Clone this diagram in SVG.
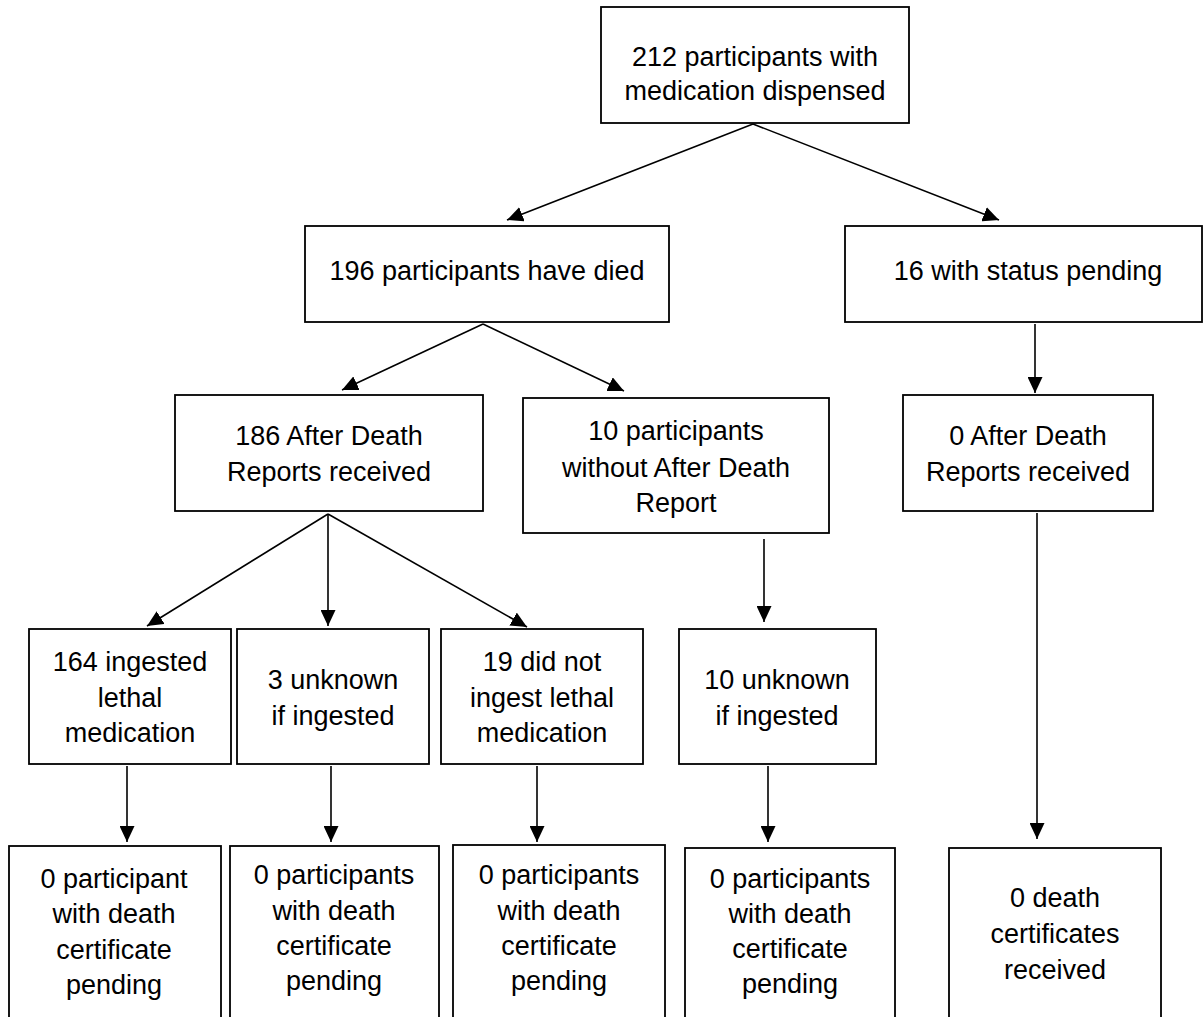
<svg xmlns="http://www.w3.org/2000/svg" width="1203" height="1017" viewBox="0 0 1203 1017">
<style>
  .box { fill: #ffffff; stroke: #000000; stroke-width: 1.8; }
  .lbl { font-family: "Liberation Sans", Arial, sans-serif; font-size: 27px; fill: #000000; text-anchor: middle; }
  .conn { stroke: #000000; stroke-width: 1.6; fill: none; marker-end: url(#arrow); }
</style>
<defs>
  <marker id="arrow" markerUnits="userSpaceOnUse" viewBox="0 0 16 15" refX="16" refY="7.5" markerWidth="16" markerHeight="15" orient="auto">
    <path d="M0,0 L16,7.5 L0,15 z" fill="#000000"/>
  </marker>
</defs>
<rect width="1203" height="1017" fill="#ffffff"/>

<g id="connectors">
  <line class="conn" x1="753" y1="124" x2="507" y2="220"/>
  <line class="conn" x1="753" y1="124" x2="999" y2="220"/>
  <line class="conn" x1="483" y1="324" x2="342" y2="390"/>
  <line class="conn" x1="483" y1="324" x2="624" y2="391"/>
  <line class="conn" x1="1035" y1="324" x2="1035" y2="393"/>
  <line class="conn" x1="328" y1="514" x2="147" y2="626"/>
  <line class="conn" x1="328" y1="514" x2="328" y2="626"/>
  <line class="conn" x1="328" y1="514" x2="527" y2="627"/>
  <line class="conn" x1="764" y1="539" x2="764" y2="622"/>
  <line class="conn" x1="1037" y1="513" x2="1037" y2="839"/>
  <line class="conn" x1="127" y1="766" x2="127" y2="842"/>
  <line class="conn" x1="331" y1="766" x2="331" y2="842"/>
  <line class="conn" x1="537" y1="766" x2="537" y2="842"/>
  <line class="conn" x1="768" y1="766" x2="768" y2="842"/>
</g>

<g id="n212">
  <rect class="box" x="601" y="7" width="308" height="116"/>
  <text class="lbl" x="755" y="66">212 participants with</text>
  <text class="lbl" x="755" y="100">medication dispensed</text>
</g>
<g id="n196">
  <rect class="box" x="305" y="226" width="364" height="96"/>
  <text class="lbl" x="487" y="280">196 participants have died</text>
</g>
<g id="n16">
  <rect class="box" x="845" y="226" width="357" height="96"/>
  <text class="lbl" x="1028" y="280">16 with status pending</text>
</g>
<g id="n186">
  <rect class="box" x="175" y="395" width="308" height="116"/>
  <text class="lbl" x="329" y="445">186 After Death</text>
  <text class="lbl" x="329" y="481">Reports received</text>
</g>
<g id="n10p">
  <rect class="box" x="523" y="398" width="306" height="135"/>
  <text class="lbl" x="676" y="440">10 participants</text>
  <text class="lbl" x="676" y="477">without After Death</text>
  <text class="lbl" x="676" y="512">Report</text>
</g>
<g id="n0adr">
  <rect class="box" x="903" y="395" width="250" height="116"/>
  <text class="lbl" x="1028" y="445">0 After Death</text>
  <text class="lbl" x="1028" y="481">Reports received</text>
</g>
<g id="n164">
  <rect class="box" x="29" y="629" width="202" height="135"/>
  <text class="lbl" x="130" y="671">164 ingested</text>
  <text class="lbl" x="130" y="707">lethal</text>
  <text class="lbl" x="130" y="742">medication</text>
</g>
<g id="n3">
  <rect class="box" x="237" y="629" width="192" height="135"/>
  <text class="lbl" x="333" y="689">3 unknown</text>
  <text class="lbl" x="333" y="725">if ingested</text>
</g>
<g id="n19">
  <rect class="box" x="441" y="629" width="202" height="135"/>
  <text class="lbl" x="542" y="671">19 did not</text>
  <text class="lbl" x="542" y="707">ingest lethal</text>
  <text class="lbl" x="542" y="742">medication</text>
</g>
<g id="n10u">
  <rect class="box" x="679" y="629" width="197" height="135"/>
  <text class="lbl" x="777" y="689">10 unknown</text>
  <text class="lbl" x="777" y="725">if ingested</text>
</g>
<g id="b1">
  <rect class="box" x="9" y="846" width="212" height="190"/>
  <text class="lbl" x="114" y="888">0 participant</text>
  <text class="lbl" x="114" y="923">with death</text>
  <text class="lbl" x="114" y="959">certificate</text>
  <text class="lbl" x="114" y="994">pending</text>
</g>
<g id="b2">
  <rect class="box" x="230" y="846" width="209" height="190"/>
  <text class="lbl" x="334" y="884">0 participants</text>
  <text class="lbl" x="334" y="920">with death</text>
  <text class="lbl" x="334" y="955">certificate</text>
  <text class="lbl" x="334" y="990">pending</text>
</g>
<g id="b3">
  <rect class="box" x="453" y="845" width="212" height="190"/>
  <text class="lbl" x="559" y="884">0 participants</text>
  <text class="lbl" x="559" y="920">with death</text>
  <text class="lbl" x="559" y="955">certificate</text>
  <text class="lbl" x="559" y="990">pending</text>
</g>
<g id="b4">
  <rect class="box" x="685" y="848" width="210" height="190"/>
  <text class="lbl" x="790" y="888">0 participants</text>
  <text class="lbl" x="790" y="923">with death</text>
  <text class="lbl" x="790" y="958">certificate</text>
  <text class="lbl" x="790" y="993">pending</text>
</g>
<g id="b5">
  <rect class="box" x="949" y="848" width="212" height="190"/>
  <text class="lbl" x="1055" y="907">0 death</text>
  <text class="lbl" x="1055" y="943">certificates</text>
  <text class="lbl" x="1055" y="979">received</text>
</g>
</svg>
